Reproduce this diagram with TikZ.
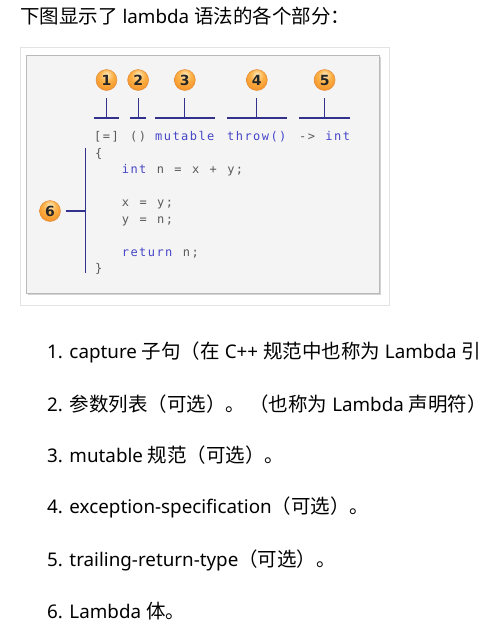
\documentclass[tikz,border=0pt]{standalone}
\usepackage{fontspec}
\setmainfont{Noto Sans}
\newfontfamily\cjk{Noto Sans CJK SC}
\newfontfamily\codefont[LetterSpace=12,WordSpace=1.2]{DejaVu Sans Mono}
\newfontfamily\numfont{DejaVu Sans}
\usetikzlibrary{calc,shadows,positioning}
\newcommand\zh[1]{{\cjk\fontsize{19.5}{22}\selectfont #1}}

\definecolor{kwblue}{RGB}{70,70,200}
\definecolor{codegray}{RGB}{90,90,90}
\definecolor{brkblue}{RGB}{50,50,140}
\definecolor{panelfill}{RGB}{244,244,244}
\definecolor{ballhi}{RGB}{255,236,190}
\definecolor{ballmid}{RGB}{252,176,70}
\definecolor{ballout}{RGB}{240,132,22}
\definecolor{balldark}{RGB}{214,104,10}
\pgfdeclareradialshading{orb}{\pgfpoint{0bp}{14bp}}{color(0bp)=(ballhi); color(16bp)=(ballmid); color(40bp)=(ballout); color(64bp)=(balldark)}

\tikzset{
	code/.style={font=\codefont\fontsize{12}{14}\selectfont, text=codegray, inner sep=0pt, anchor=base west},
	brk/.style={draw=brkblue, line width=1.2pt},
	num/.style={circle, minimum size=21pt, inner sep=0pt, shading=orb, draw=balldark!80, line width=0.4pt,
		text=black!85, font=\numfont\bfseries\fontsize{14}{14}\selectfont},
	item/.style={anchor=west, inner sep=0pt, font=\fontsize{18.8}{22}\selectfont},
}

\begin{document}
\begin{tikzpicture}[x=1pt, y=-1pt]

	% === page bounds ===
	\useasboundingbox (0,0) rectangle (479,641);

	% === heading ===
	\node[item] (head) at (20,16) {\zh{下图显示了} lambda \zh{语法的各个部分：}};

	% === frame and panel ===
	\draw[gray!22] (20.5,47.5) rectangle (389.5,305.5);
	\filldraw[fill=panelfill, draw=gray!55, drop shadow={shadow xshift=1.5pt, shadow yshift=-1.5pt, opacity=0.35}]
		(26,55) rectangle (379,293);

	% === signature tokens ===
	\node[code] (cap) at (94,140) {[=]};
	\node[code] (par) at (130,140) {()};
	\node[code, text=kwblue] (mut) at (155,140) {mutable};
	\node[code, text=kwblue] (exc) at (227,140) {throw()};
	\node[code] (ret) at (299,140) {-> \textcolor{kwblue}{int}};

	% === brackets and numbered balls ===
	\foreach \tok/\n in {cap/1, par/2, mut/3, exc/4, ret/5} {
		\draw[brk] (\tok.west |- 0,118) -- (\tok.east |- 0,118);	% span
		\draw[brk] (\tok |- 0,118) -- (\tok |- 0,98);				% stem
		\node[num] (c\n) at (\tok |- 0,80) {\n};
	}

	% === body ===
	\node[code] (lb) at (95,157) {\{};
	\node[code] (l1) at (121.7,173.5) {\textcolor{kwblue}{int} n = x + y;};
	\node[code] (l2) at (121.7,206.5) {x = y;};
	\node[code] (l3) at (121.7,223) {y = n;};
	\node[code] (l4) at (121.7,256) {\textcolor{kwblue}{return} n;};
	\node[code] (rb) at (95,272.5) {\}};

	\coordinate (bt) at (85.7,148);
	\coordinate (bb) at (85.7,273);
	\draw[brk] (bt) -- (bb);
	\node[num] (c6) at (50,211) {6};
	\draw[brk] ([xshift=5pt]c6.east) -- (c6.east -| bt);

	% === list ===
	\node[item] (i1) at (47,352.5) {1. capture \zh{子句（在} C++ \zh{规范中也称为} Lambda \zh{引}};
	\node[item] (i2) at (47,404) {2. \zh{参数列表（可选）。 （也称为} Lambda \zh{声明符）}};
	\node[item] (i3) at (47,455.5) {3. mutable \zh{规范（可选）。}};
	\node[item] (i4) at (47,507.5) {4. exception-specification\zh{（可选）。}};
	\node[item] (i5) at (47,560) {5. trailing-return-type\zh{（可选）。}};
	\node[item] (i6) at (47,611.5) {6. Lambda \zh{体。}};
\end{tikzpicture}
\end{document}
